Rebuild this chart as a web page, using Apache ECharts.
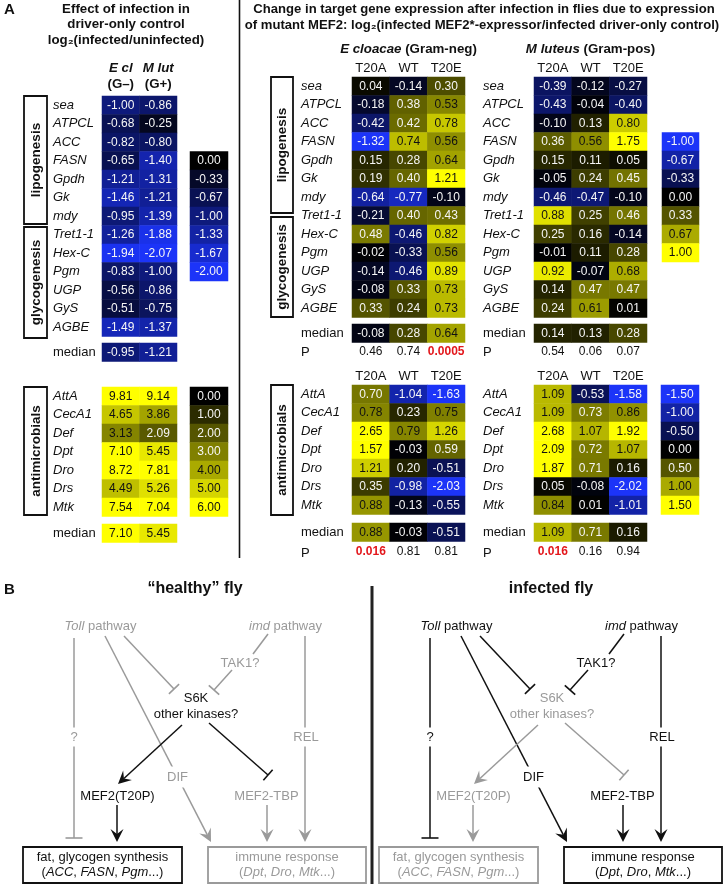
<!DOCTYPE html>
<html><head><meta charset="utf-8">
<script src="https://cdn.jsdelivr.net/npm/echarts@6.0.0/dist/echarts.min.js"></script>
<style>html,body{margin:0;padding:0;background:#fff}#c{width:726px;height:884px}</style>
</head><body><div id="c"></div>
<script>
// ---------------- DATA ----------------
const metabGenes = ['sea','ATPCL','ACC','FASN','Gpdh','Gk','mdy','Tret1-1','Hex-C','Pgm','UGP','GyS','AGBE'];
const antiGenes = ['AttA','CecA1','Def','Dpt','Dro','Drs','Mtk'];
const ctrlCols = ['E cl','M lut'];
const ctrlGram = ['(G\u2013)','(G+)'];
const mutCols = ['T20A','WT','T20E'];

// Panel A left: effect of infection in driver-only control
const ctrlMetabEcl  = [-1.00,-0.68,-0.82,-0.65,-1.21,-1.46,-0.95,-1.26,-1.94,-0.83,-0.56,-0.51,-1.49];
const ctrlMetabMlut = [-0.86,-0.25,-0.80,-1.40,-1.31,-1.21,-1.39,-1.88,-2.07,-1.00,-0.86,-0.75,-1.37];
const ctrlMetabMedian = [-0.95,-1.21];
const ctrlAntiEcl  = [9.81,4.65,3.13,7.10,8.72,4.49,7.54];
const ctrlAntiMlut = [9.14,3.86,2.09,5.45,7.81,5.26,7.04];
const ctrlAntiMedian = [7.10,5.45];
const ctrlMetabKey = [0.00,-0.33,-0.67,-1.00,-1.33,-1.67,-2.00];
const ctrlAntiKey  = [0.00,1.00,2.00,3.00,4.00,5.00,6.00];

// Panel A right: E cloacae, metabolic genes
const eclMetabT20A = [0.04,-0.18,-0.42,-1.32,0.15,0.19,-0.64,-0.21,0.48,-0.02,-0.14,-0.08,0.33];
const eclMetabWT   = [-0.14,0.38,0.42,0.74,0.28,0.40,-0.77,0.40,-0.46,-0.33,-0.46,0.33,0.24];
const eclMetabT20E = [0.30,0.53,0.78,0.56,0.64,1.21,-0.10,0.43,0.82,0.56,0.89,0.73,0.73];
const eclMetabMedian = [-0.08,0.28,0.64];
const eclMetabP = ['0.46','0.74','0.0005'];
// M luteus, metabolic genes
const mlutMetabT20A = [-0.39,-0.43,-0.10,0.36,0.15,-0.05,-0.46,0.88,0.25,-0.01,0.92,0.14,0.24];
const mlutMetabWT   = [-0.12,-0.04,0.13,0.56,0.11,0.24,-0.47,0.25,0.16,0.11,-0.07,0.47,0.61];
const mlutMetabT20E = [-0.27,-0.40,0.80,1.75,0.05,0.45,-0.10,0.46,-0.14,0.28,0.68,0.47,0.01];
const mlutMetabMedian = [0.14,0.13,0.28];
const mlutMetabP = ['0.54','0.06','0.07'];
// E cloacae, antimicrobials
const eclAntiT20A = [0.70,0.78,2.65,1.57,1.21,0.35,0.88];
const eclAntiWT   = [-1.04,0.23,0.79,-0.03,0.20,-0.98,-0.13];
const eclAntiT20E = [-1.63,0.75,1.26,0.59,-0.51,-2.03,-0.55];
const eclAntiMedian = [0.88,-0.03,-0.51];
const eclAntiP = ['0.016','0.81','0.81'];
// M luteus, antimicrobials
const mlutAntiT20A = [1.09,1.09,2.68,2.09,1.87,0.05,0.84];
const mlutAntiWT   = [-0.53,0.73,1.07,0.72,0.71,-0.08,0.01];
const mlutAntiT20E = [-1.58,0.86,1.92,1.07,0.16,-2.02,-1.01];
const mlutAntiMedian = [1.09,0.71,0.16];
const mlutAntiP = ['0.016','0.16','0.94'];
const mutMetabKey = [-1.00,-0.67,-0.33,0.00,0.33,0.67,1.00];
const mutAntiKey  = [-1.50,-1.00,-0.50,0.00,0.50,1.00,1.50];

// ---------------- STYLE ----------------
const FONT = 'Liberation Sans';
const BLUE = '#1c34f8', YEL = '#ffff00';
const ROW = 18.5;
const scaleDefs = {
  ctrlMetab:{min:-2,max:0,colors:[BLUE,'#000000'],blackAt:Infinity},
  ctrlAnti:{min:0,max:6,colors:['#000000',YEL],blackAt:3.05},
  mutMetab:{min:-1,max:1,colors:[BLUE,'#000000',YEL],blackAt:0.5},
  mutAnti:{min:-1.5,max:1.5,colors:[BLUE,'#000000',YEL],blackAt:0.745}
};
const scaleSeries = {ctrlMetab:[],ctrlAnti:[],mutMetab:[],mutAnti:[]};
const grids=[], xAxes=[], yAxes=[], series=[], gfx=[];

function heat(o){
  const gi = grids.length, nC = o.columns.length, nR = o.rows.length;
  grids.push({left:o.left, top:o.top, width:o.colW*nC, height:ROW*nR, containLabel:false, outerBoundsMode:'none'});
  xAxes.push(Object.assign({gridIndex:gi, type:'category', data:o.cols || o.columns.map((_,i)=>'c'+i),
    position:o.xPos || 'top', axisLine:{show:false}, axisTick:{show:false}, splitLine:{show:false},
    axisLabel:Object.assign({show:!!o.xLabel, interval:0, margin:o.xMargin||2, fontFamily:FONT, fontSize:13, color:'#111'}, o.xLabel||{})}));
  yAxes.push({gridIndex:gi, type:'category', data:o.rows, inverse:true,
    axisLine:{show:false}, axisTick:{show:false}, splitLine:{show:false},
    axisLabel:{show:!o.noY, interval:0, align:'left', margin:o.yMargin||49, fontFamily:FONT, fontSize:13,
      fontStyle:o.yItalic===false?'normal':'italic', color:'#111'}});
  const sd = scaleDefs[o.scale];
  const data = [];
  o.columns.forEach((arr,ci)=>arr.forEach((v,ri)=>{
    data.push({value:[ci,ri,v], label:{color: v>=sd.blackAt ? '#111111' : '#f6f6f6'}});
  }));
  series.push({type:'heatmap', xAxisIndex:gi, yAxisIndex:gi, data, progressive:0,
    itemStyle:{borderWidth:0}, emphasis:{disabled:true},
    label:{show:true, fontFamily:FONT, fontSize:12, formatter:p=>p.value[2].toFixed(2)}});
  scaleSeries[o.scale].push(series.length-1);
}

function pAxis(pArr, margin){
  return {show:true, margin, fontSize:12, color:'#111',
    formatter:(v,i)=> parseFloat(pArr[i])<0.05 ? '{r|'+pArr[i]+'}' : pArr[i],
    rich:{r:{color:'#e3161b', fontWeight:'bold', fontSize:12, fontFamily:FONT}}};
}
const keyRows = n => Array.from({length:n},(_,i)=>'k'+i);

// ---- left panel ----
heat({left:102, top:96, colW:37.5, rows:metabGenes, columns:[ctrlMetabEcl, ctrlMetabMlut], scale:'ctrlMetab',
  cols:ctrlCols, xMargin:4, xLabel:{formatter:(v,i)=>'{a|'+v+'}\n{b|'+ctrlGram[i]+'}',
    rich:{a:{fontWeight:'bold',fontStyle:'italic',fontSize:13.3,fontFamily:FONT,lineHeight:16,color:'#111'},
          b:{fontWeight:'bold',fontSize:13.3,fontFamily:FONT,lineHeight:16,color:'#111'}}}});
heat({left:102, top:343, colW:37.5, rows:['median'], yItalic:false, columns:ctrlMetabMedian.map(v=>[v]), scale:'ctrlMetab'});
heat({left:190, top:151.5, colW:38, rows:keyRows(7), noY:true, columns:[ctrlMetabKey], scale:'ctrlMetab'});
heat({left:102, top:387, colW:37.5, rows:antiGenes, columns:[ctrlAntiEcl, ctrlAntiMlut], scale:'ctrlAnti'});
heat({left:102, top:524, colW:37.5, rows:['median'], yItalic:false, columns:ctrlAntiMedian.map(v=>[v]), scale:'ctrlAnti'});
heat({left:190, top:387, colW:38, rows:keyRows(7), noY:true, columns:[ctrlAntiKey], scale:'ctrlAnti'});

// ---- right panel ----
const hdr = {formatter:v=>v};
heat({left:352, top:77, colW:37.67, rows:metabGenes, columns:[eclMetabT20A,eclMetabWT,eclMetabT20E], scale:'mutMetab', cols:mutCols, xMargin:2.5, xLabel:hdr, yMargin:51});
heat({left:352, top:324, colW:37.67, rows:['median'], yItalic:false, columns:eclMetabMedian.map(v=>[v]), scale:'mutMetab', cols:mutCols, xPos:'bottom', xLabel:pAxis(eclMetabP,3), xMargin:3, yMargin:51});
heat({left:534, top:77, colW:37.67, rows:metabGenes, columns:[mlutMetabT20A,mlutMetabWT,mlutMetabT20E], scale:'mutMetab', cols:mutCols, xMargin:2.5, xLabel:hdr, yMargin:51});
heat({left:534, top:324, colW:37.67, rows:['median'], yItalic:false, columns:mlutMetabMedian.map(v=>[v]), scale:'mutMetab', cols:mutCols, xPos:'bottom', xLabel:pAxis(mlutMetabP,3), xMargin:3, yMargin:51});
heat({left:662, top:132.5, colW:37, rows:keyRows(7), noY:true, columns:[mutMetabKey], scale:'mutMetab'});
heat({left:352, top:385, colW:37.67, rows:antiGenes, columns:[eclAntiT20A,eclAntiWT,eclAntiT20E], scale:'mutAnti', cols:mutCols, xMargin:2, xLabel:hdr, yMargin:51});
heat({left:352, top:523, colW:37.67, rows:['median'], yItalic:false, columns:eclAntiMedian.map(v=>[v]), scale:'mutAnti', cols:mutCols, xPos:'bottom', xLabel:pAxis(eclAntiP,4), xMargin:4, yMargin:51});
heat({left:534, top:385, colW:37.67, rows:antiGenes, columns:[mlutAntiT20A,mlutAntiWT,mlutAntiT20E], scale:'mutAnti', cols:mutCols, xMargin:2, xLabel:hdr, yMargin:51});
heat({left:534, top:523, colW:37.67, rows:['median'], yItalic:false, columns:mlutAntiMedian.map(v=>[v]), scale:'mutAnti', cols:mutCols, xPos:'bottom', xLabel:pAxis(mlutAntiP,4), xMargin:4, yMargin:51});
heat({left:661, top:385, colW:38, rows:keyRows(7), noY:true, columns:[mutAntiKey], scale:'mutAnti'});

// ---------------- GRAPHICS ----------------
function txt(x,y,text,o={}){
  const st = {text, fill:o.fill||'#111', fontFamily:FONT, fontSize:o.size||13, fontWeight:o.weight||'normal',
    fontStyle:o.italic?'italic':'normal', align:o.align||'center', verticalAlign:'middle'};
  if (o.rich) st.rich = o.rich;
  if (o.bg) { st.backgroundColor = '#ffffff'; st.padding = o.pad || [1,2]; }
  gfx.push({type:'text', x, y, rotation:o.rot||0, z:o.z||20, style:st});
}
function richI(color,size,weight){ return {i:{fontStyle:'italic',fontFamily:FONT,fontSize:size||13,fontWeight:weight||'normal',fill:color}}; }
function bracket(x,y,w,h,label){
  gfx.push({type:'rect', z:5, shape:{x,y,width:w,height:h}, style:{fill:'#fff',stroke:'#111',lineWidth:1.8}});
  txt(x+w/2+0.5, y+h/2, label, {weight:'bold', size:13.5, rot:Math.PI/2});
}
function seg(pts,c,w){ gfx.push({type:'polyline', z:10, shape:{points:pts}, style:{stroke:c, lineWidth:w||1.5, fill:null}}); }
function arrow(x1,y1,x2,y2,c){
  const a=Math.atan2(y2-y1,x2-x1), L=13, W=6.5;
  const ux=Math.cos(a), uy=Math.sin(a), nx=-uy, ny=ux;
  const bx=x2-L*ux, by=y2-L*uy, mx=x2-L*0.62*ux, my=y2-L*0.62*uy;
  seg([[x1,y1],[mx,my]],c);
  gfx.push({type:'polygon', z:11, shape:{points:[[x2,y2],[bx+nx*W,by+ny*W],[mx,my],[bx-nx*W,by-ny*W]]}, style:{fill:c}});
}
function inhibit(x1,y1,x2,y2,c,half){
  const a=Math.atan2(y2-y1,x2-x1), h=half||7;
  const nx=-Math.sin(a), ny=Math.cos(a);
  seg([[x1,y1],[x2,y2]],c);
  seg([[x2+nx*h,y2+ny*h],[x2-nx*h,y2-ny*h]],c,1.6);
}

// titles
txt(4,10,'A',{weight:'bold',size:15,align:'left'});
txt(126,9,'Effect of infection in',{weight:'bold',size:13.3});
txt(126,24.5,'driver-only control',{weight:'bold',size:13.3});
txt(126,40,'log\u2082(infected/uninfected)',{weight:'bold',size:13.3});
txt(484,9,'Change in target gene expression after infection in flies due to expression',{weight:'bold',size:13.1});
txt(482,25,'of mutant MEF2: log\u2082(infected MEF2*-expressor/infected driver-only control)',{weight:'bold',size:13.1});
txt(408.5,49,'{i|E cloacae} (Gram-neg)',{weight:'bold',size:13.3,rich:richI('#111',13.3,'bold')});
txt(590.5,49,'{i|M luteus} (Gram-pos)',{weight:'bold',size:13.3,rich:richI('#111',13.3,'bold')});
txt(301,352,'P',{align:'left'}); txt(483,352,'P',{align:'left'});
txt(301,553,'P',{align:'left'}); txt(483,553,'P',{align:'left'});

// brackets
bracket(24,96,23,128,'lipogenesis');
bracket(24,227,23,111,'glycogenesis');
bracket(24,387,23,128,'antimicrobials');
bracket(271,77,22,136,'lipogenesis');
bracket(271,217,22,100,'glycogenesis');
bracket(271,385,22,130,'antimicrobials');

// dividers
seg([[239.5,0],[239.5,558]],'#111',1.6);
seg([[372,586],[372,884]],'#222',3);

// panel B
txt(4,590,'B',{weight:'bold',size:15,align:'left'});
txt(195,589,'\u201chealthy\u201d fly',{weight:'bold',size:16});
txt(551,589,'infected fly',{weight:'bold',size:16});

const GRAY='#9a9a9a', BLK='#111111';
function diagram(dx, infected){
  const a = infected ? BLK : GRAY;   // immune signalling
  const m = infected ? GRAY : BLK;   // MEF2 metabolic branch
  inhibit(74+dx,638, 74+dx,838, a, 8.5);
  arrow(105+dx,636, 211+dx,842, a);
  inhibit(124+dx,636, 174+dx,689, a);
  seg([[268+dx,634],[253+dx,654]], a);
  inhibit(232+dx,670, 214+dx,690, a);
  arrow(305+dx,636, 305+dx,842, a);
  arrow(182+dx,725, 118+dx,784, m);
  inhibit(209+dx,723, 268+dx,775, m);
  arrow(117+dx,805, 117+dx,842, m);
  arrow(267+dx,805, 267+dx,842, a);
  txt(100.5+dx,626,'{i|Toll} pathway',{fill:a,rich:richI(a)});
  txt(285.5+dx,626,'{i|imd} pathway',{fill:a,rich:richI(a)});
  txt(240+dx,663,'TAK1?',{fill:a});
  txt(196+dx,698,'S6K',{fill:m});
  txt(196+dx,714,'other kinases?',{fill:m});
  txt(74+dx,737,'?',{fill:a,bg:true,pad:[3,2]});
  txt(306+dx,737,'REL',{fill:a,bg:true,pad:[3,2]});
  txt(177.5+dx,777,'DIF',{fill:a,bg:true,pad:[4,2]});
  txt(117.5+dx,796,'MEF2(T20P)',{fill:m});
  txt(266.5+dx,796,'MEF2-TBP',{fill:a});
  gfx.push({type:'rect', z:5, shape:{x:23+dx,y:847,width:159,height:36}, style:{fill:'#fff',stroke:m,lineWidth:1.8}});
  txt(102.5+dx,857.5,'fat, glycogen synthesis',{fill:m});
  txt(102.5+dx,872.5,'({i|ACC}, {i|FASN}, {i|Pgm}...)',{fill:m,rich:richI(m)});
  gfx.push({type:'rect', z:5, shape:{x:208+dx,y:847,width:158,height:36}, style:{fill:'#fff',stroke:a,lineWidth:1.8}});
  txt(287+dx,857.5,'immune response',{fill:a});
  txt(287+dx,872.5,'({i|Dpt}, {i|Dro}, {i|Mtk}...)',{fill:a,rich:richI(a)});
}
diagram(0,false);
diagram(356,true);

const visualMap = Object.keys(scaleDefs).map(k=>({type:'continuous', show:false, dimension:2,
  seriesIndex:scaleSeries[k], min:scaleDefs[k].min, max:scaleDefs[k].max, inRange:{color:scaleDefs[k].colors}}));

const chart = echarts.init(document.getElementById('c'), null, {renderer:'canvas'});
chart.setOption({animation:false, backgroundColor:'#ffffff', textStyle:{fontFamily:FONT},
  grid:grids, xAxis:xAxes, yAxis:yAxes, visualMap, series, graphic:{elements:gfx}});
</script></body></html>
